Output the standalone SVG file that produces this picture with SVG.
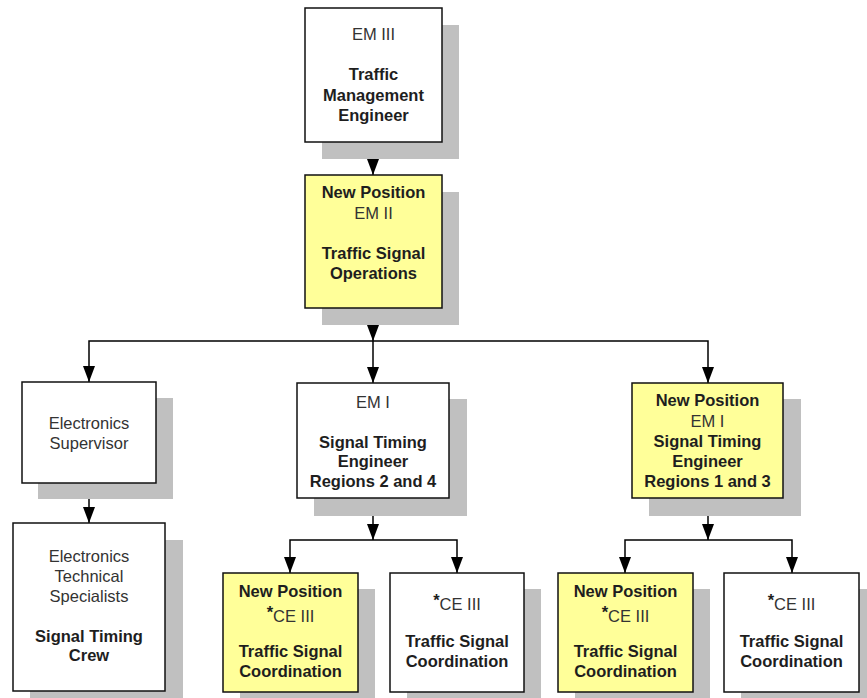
<svg xmlns="http://www.w3.org/2000/svg" width="867" height="698" viewBox="0 0 867 698">
<defs>
<marker id="arr" markerUnits="userSpaceOnUse" markerWidth="16" markerHeight="12" refX="16" refY="6" orient="auto" viewBox="0 0 16 12">
<path d="M0,0 L16,6 L0,12 z" fill="#000"/>
</marker>
</defs>
<style>
.shadow{fill:#c0c0c0;stroke:none}
.box{fill:#fff;stroke:#111;stroke-width:1.5}
.new{fill:#ffff99;stroke:#111;stroke-width:1.5}
text{font-family:"Liberation Sans",Arial,sans-serif;font-size:16.5px;text-anchor:middle;fill:#333}
.b{font-weight:bold;fill:#1e1e1e}
.conn{fill:none;stroke:#000;stroke-width:1.5}
</style>
<rect width="867" height="698" fill="#fff"/>
<g id="connectors">
<path class="conn" d="M373,142 V175" marker-end="url(#arr)"/>
<path class="conn" d="M373,308 V341" marker-end="url(#arr)"/>
<path class="conn" d="M373,341 H89 V382" marker-end="url(#arr)"/>
<path class="conn" d="M373,341 V383" marker-end="url(#arr)"/>
<path class="conn" d="M373,341 H708 V383" marker-end="url(#arr)"/>
<path class="conn" d="M89,483 V523" marker-end="url(#arr)"/>
<path class="conn" d="M373,498 V540" marker-end="url(#arr)"/>
<path class="conn" d="M373,540 H290 V573" marker-end="url(#arr)"/>
<path class="conn" d="M373,540 H457 V573" marker-end="url(#arr)"/>
<path class="conn" d="M708,498 V540" marker-end="url(#arr)"/>
<path class="conn" d="M708,540 H625 V573" marker-end="url(#arr)"/>
<path class="conn" d="M708,540 H792 V573" marker-end="url(#arr)"/>
</g>
<g id="em3">
<rect class="shadow" x="322" y="25" width="137" height="134"/>
<rect class="box" x="305" y="8" width="137" height="134"/>
<text x="373.5" y="40">EM III</text>
<text class="b" x="373.5" y="80">Traffic</text>
<text class="b" x="373.5" y="101">Management</text>
<text class="b" x="373.5" y="121">Engineer</text>
</g>
<g id="em2">
<rect class="shadow" x="322" y="192" width="137" height="133"/>
<rect class="new" x="305" y="175" width="137" height="133"/>
<text class="b" x="373.5" y="198">New Position</text>
<text x="373.5" y="219">EM II</text>
<text class="b" x="373.5" y="259">Traffic Signal</text>
<text class="b" x="373.5" y="279">Operations</text>
</g>
<g id="elecsup">
<rect class="shadow" x="38" y="398" width="135" height="101"/>
<rect class="box" x="22" y="382" width="134" height="101"/>
<text x="89" y="429">Electronics</text>
<text x="89" y="449">Supervisor</text>
</g>
<g id="em1mid">
<rect class="shadow" x="314" y="399" width="153" height="117"/>
<rect class="box" x="297" y="383" width="152" height="115"/>
<text x="373" y="408">EM I</text>
<text class="b" x="373" y="448">Signal Timing</text>
<text class="b" x="373" y="467">Engineer</text>
<text class="b" x="373" y="487">Regions 2 and 4</text>
</g>
<g id="em1right">
<rect class="shadow" x="649" y="399" width="152" height="117"/>
<rect class="new" x="632" y="383" width="151" height="115"/>
<text class="b" x="707.5" y="406">New Position</text>
<text x="707.5" y="427">EM I</text>
<text class="b" x="707.5" y="447">Signal Timing</text>
<text class="b" x="707.5" y="467">Engineer</text>
<text class="b" x="707.5" y="487">Regions 1 and 3</text>
</g>
<g id="electech">
<rect class="shadow" x="30" y="540" width="153" height="168"/>
<rect class="box" x="13" y="523" width="152" height="168"/>
<text x="89" y="562">Electronics</text>
<text x="89" y="582">Technical</text>
<text x="89" y="602">Specialists</text>
<text class="b" x="89" y="642">Signal Timing</text>
<text class="b" x="89" y="661">Crew</text>
</g>
<g id="ce3a">
<rect class="shadow" x="240" y="589" width="135" height="119"/>
<rect class="new" x="223" y="573" width="135" height="119"/>
<text class="b" x="290.5" y="597">New Position</text>
<text x="290.5" y="622"><tspan class="b" dy="-4">*</tspan><tspan dy="4">CE III</tspan></text>
<text class="b" x="290.5" y="657">Traffic Signal</text>
<text class="b" x="290.5" y="677">Coordination</text>
</g>
<g id="ce3b">
<rect class="shadow" x="407" y="589" width="134" height="119"/>
<rect class="box" x="390" y="573" width="134" height="119"/>
<text x="457" y="610"><tspan class="b" dy="-4">*</tspan><tspan dy="4">CE III</tspan></text>
<text class="b" x="457" y="647">Traffic Signal</text>
<text class="b" x="457" y="667">Coordination</text>
</g>
<g id="ce3c">
<rect class="shadow" x="575" y="589" width="135" height="119"/>
<rect class="new" x="558" y="573" width="135" height="119"/>
<text class="b" x="625.5" y="597">New Position</text>
<text x="625.5" y="622"><tspan class="b" dy="-4">*</tspan><tspan dy="4">CE III</tspan></text>
<text class="b" x="625.5" y="657">Traffic Signal</text>
<text class="b" x="625.5" y="677">Coordination</text>
</g>
<g id="ce3d">
<rect class="shadow" x="741" y="589" width="135" height="119"/>
<rect class="box" x="724" y="573" width="135" height="119"/>
<text x="791.5" y="610"><tspan class="b" dy="-4">*</tspan><tspan dy="4">CE III</tspan></text>
<text class="b" x="791.5" y="647">Traffic Signal</text>
<text class="b" x="791.5" y="667">Coordination</text>
</g>
</svg>
